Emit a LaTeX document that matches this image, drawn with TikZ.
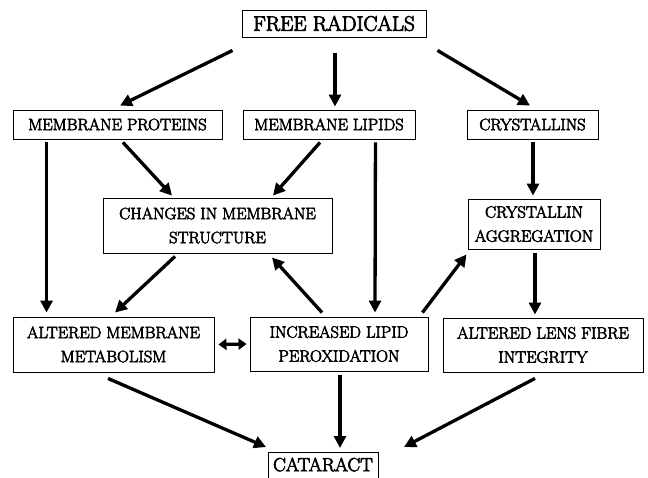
\documentclass[tikz,border=0pt]{standalone}
\usepackage{fontspec}
\newfontfamily\heavy{Latin Modern Roman}[FakeBold=3.5]
\usetikzlibrary{arrows.meta,positioning}
\tikzset{
  box/.style={draw,line width=0.9pt,rectangle,inner sep=0pt,align=center,
    font=\heavy\fontsize{16.5}{24}\selectfont},
  arr/.style={line width=3.3pt,-{Triangle[length=12pt,width=12pt]}},
  darr/.style={line width=3.3pt,{Triangle[length=8pt,width=11pt]}-{Triangle[length=8pt,width=11pt]}},
}
\begin{document}
\begin{tikzpicture}[x=1pt,y=-1pt]
\useasboundingbox (0,0) rectangle (648,478);
\clip (0,0) rectangle (648,478);
% nodes (centres from pixel boxes)
\node[box,minimum width=184pt,minimum height=27pt,font=\heavy\fontsize{21}{24}\selectfont] (fr) at (334,23.5) {FREE RADICALS};
\node[box,minimum width=209pt,minimum height=29pt] (mp) at (117.5,124.5) {MEMBRANE PROTEINS};
\node[box,minimum width=172pt,minimum height=29pt] (ml) at (329,124.5) {MEMBRANE LIPIDS};
\node[box,minimum width=131pt,minimum height=29pt] (cry) at (532.5,124.5) {CRYSTALLINS};
\node[box,minimum width=229pt,minimum height=55pt] (cms) at (217.5,225.5) {CHANGES IN MEMBRANE\\STRUCTURE};
\node[box,minimum width=132pt,minimum height=50pt] (ca) at (534,224) {CRYSTALLIN\\AGGREGATION};
\node[box,minimum width=201pt,minimum height=55pt] (amm) at (113.5,344.5) {ALTERED MEMBRANE\\METABOLISM};
\node[box,minimum width=178pt,minimum height=54pt] (ilp) at (339,344) {INCREASED LIPID\\PEROXIDATION};
\node[box,minimum width=200pt,minimum height=54pt] (alf) at (543,345) {ALTERED LENS FIBRE\\INTEGRITY};
\node[box,minimum width=110pt,minimum height=38pt,anchor=north,font=\heavy\fontsize{19}{24}\selectfont,text depth=14pt] (cat) at (323,452) {CATARACT};
% connectors
\draw[arr] ([shift={(-9,13)}]fr.south west) -- ([shift={(2.5,-4)}]mp.north);
\draw[arr] ([shift={(1,16)}]fr.south) -- ([shift={(6,-3)}]ml.north);
\draw[arr] ([shift={(11,13)}]fr.south east) -- ([shift={(-2.5,-4)}]cry.north);
\draw[arr] ([shift={(5.5,3)}]mp.south) -- ([shift={(-45.5,-2)}]cms.north);
\draw[arr] ([shift={(-9,3)}]ml.south) -- ([shift={(55.5,-2)}]cms.north);
\draw[arr] ([shift={(34,3)}]mp.south west) -- ([shift={(34,-4)}]amm.north west);
\draw[arr] ([shift={(-40,3)}]ml.south east) -- ([shift={(36,-4)}]ilp.north);
\draw[arr] ([shift={(0.5,3)}]cry.south) -- ([shift={(-1,-3)}]ca.north);
\draw[arr] ([shift={(-42.5,3)}]cms.south) -- ([shift={(1.5,-4)}]amm.north);
\draw[arr] ([shift={(-17,-4)}]ilp.north) -- ([shift={(54.5,4)}]cms.south);
\draw[arr] ([shift={(-6,-4)}]ilp.north east) -- ([shift={(-1,5)}]ca.south west);
\draw[arr] ([shift={(1,4)}]ca.south) -- ([shift={(-8,-3)}]alf.north);
\draw[darr] ([shift={(4,0)}]amm.east) -- ([shift={(-3,0)}]ilp.west);
\draw[arr] ([shift={(-5.5,6)}]amm.south) -- ([shift={(-57,-5)}]cat.north);
\draw[arr] ([shift={(1,4)}]ilp.south) -- ([shift={(17,-4)}]cat.north);
\draw[arr] ([shift={(-8,6)}]alf.south) -- ([shift={(81,-5)}]cat.north);
\end{tikzpicture}
\end{document}
